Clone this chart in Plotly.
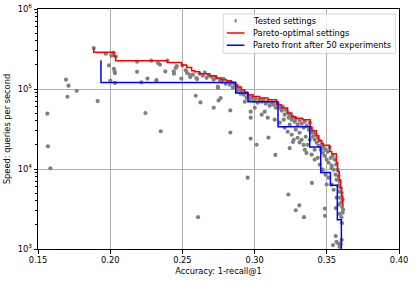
import plotly.graph_objects as go

# Tested settings (accuracy, queries per second)
tested_x = [0.1565,0.1569,0.1586,0.1694,0.1711,0.1704,0.1768,0.1913,0.1886,0.1969,0.2008,0.2024,0.1992,0.2026,0.2031,0.2033,0.2001,0.2033,0.2038,0.2186,0.2186,0.2216,0.2258,0.2320,0.2285,0.2331,0.2345,0.2382,0.2396,0.2440,0.2442,0.2454,0.2461,0.2493,0.2500,0.2523,0.2532,0.2555,0.2573,0.2597,0.2602,0.2592,0.2625,0.2244,0.2350,0.2717,0.2751,0.2765,0.2832,0.2832,0.2973,0.2973,0.2973,0.3014,0.3096,0.3144,0.2952,0.2608,0.3243,0.3266,0.3271,0.3312,0.3340,0.3359,0.3397,0.3234,0.3310,0.3285,0.3342,0.3487,0.3487,0.3499,0.3562,0.3589,0.3601,0.3610,0.3605,0.3562,0.3567,0.3578,0.3543,0.3589,0.3596,0.3603,0.3532,
            0.2620,0.2641,0.2655,0.2668,0.2682,0.2703,0.2717,0.2731,0.2745,0.2747,0.2759,0.2772,0.2786,0.2800,0.2814,0.2828,0.2842,0.2849,0.2862,0.2876,0.2883,0.2897,0.2904,0.2911,0.2925,0.2939,0.2945,0.2959,0.2966,0.2980,0.2994,0.3008,0.3021,0.3035,0.3049,0.3063,0.3077,0.3091,0.3105,0.3118,0.3132,0.3146,0.3160,0.3174,0.3188,0.3195,0.3208,0.3215,0.3229,0.3236,0.3243,0.3257,0.3264,0.3278,0.3285,0.3298,0.3312,0.3326,0.3340,0.3347,0.3361,0.3375,0.3382,0.3389,0.3395,0.3402,0.3409,0.3416,0.3423,0.3430,0.3437,0.3444,0.3451,0.3458,0.3465,0.3472,0.3478,0.3485,0.3492,0.3499,0.3506,0.3513,0.3520,0.3527,0.3534,0.3541,0.3548,0.3554,0.3561,0.3565,0.3568,0.3575,0.3579,0.3582,0.3586,0.3589,0.3593,0.3596,0.3599,0.3603,0.3606,0.3610,0.3613,
            0.2932,0.3001,0.3049,0.3070,0.3091,0.3139,0.3174,0.3208,0.3229,0.3257,0.3285,0.3298,0.3326,0.3354,0.3368,0.3382,0.3395,0.3416,0.3437,0.3451,0.3472,0.3492,0.3513,0.3534,0.3548,0.3568,0.3582,0.3416,0.3347,0.3202,0.3243,0.3312,0.2551]
tested_y = [49100,19200,10200,131000,110000,80000,95000,70700,325000,276000,261000,284000,197000,178000,164000,158000,127000,119000,255000,219000,164000,121000,135000,129000,226000,211000,201000,166000,226000,166000,155000,183000,193000,135000,196000,171000,159000,141000,151000,137000,133000,82400,68000,50000,29600,58300,72000,77000,53900,28500,52000,43800,24000,20100,24700,15000,7800,2500,18200,21800,23200,21500,20000,15900,6700,4800,3500,3050,2500,3200,2600,6400,3250,2750,2500,2840,2100,1450,1230,1180,1120,1070,1150,1300,10300,
            155000,147000,160000,138000,147000,142000,131000,138000,107500,103000,131000,123000,134000,116000,123000,113000,120000,104000,113000,104000,95100,101000,87300,92500,84800,89800,77800,82400,73500,77800,71400,75600,67400,73500,69400,73500,65500,69400,61800,67400,63600,58300,65500,58300,53500,60100,47700,55100,50500,43800,47700,41300,45100,39000,42500,35800,40100,36800,32800,39000,34700,31000,37900,28400,31900,25300,28400,23200,26800,21300,24600,19500,22600,17400,20100,16000,18500,14600,17400,13100,16400,12000,18500,13800,11000,14600,9800,13100,8500,11300,7350,9800,6200,8200,5200,6950,4380,5850,3800,5050,3370,4130,3100,
            69400,58300,47700,52000,43800,41300,37900,32800,29200,26800,31000,24600,23200,25300,20100,23200,15100,17400,13800,11300,9800,8500,7800,6360,5500,4380,3580,13100,17400,41300,35800,28400,151000]

# Pareto-optimal settings (step corners)
pareto_x = [0.1886,0.2026,0.2038,0.2396,0.2495,0.2530,0.2564,0.2585,0.2620,0.2689,0.2735,0.2770,0.2805,0.2839,0.2869,0.2885,0.2909,0.2931,0.2954,0.2989,0.3035,0.3093,0.3153,0.3186,0.3229,0.3257,0.3285,0.3333,0.3385,0.3395,0.3428,0.3444,0.3465,0.3475,0.3520,0.3534,0.3566,0.3575,0.3586,0.3596,0.3603,0.3610,0.3617]
pareto_y = [325000,287000,256000,226000,215000,199500,186000,169000,164500,155000,146500,137000,130500,127000,121000,112000,106000,98000,90700,84900,80800,77200,73500,63600,57900,50100,45100,43200,41300,33800,30100,26100,22600,21000,19800,16600,15500,12000,9250,7350,5840,4640,3580]

# Pareto front after 50 experiments
front50_x = [0.1936,0.2869,0.2954,0.3162,0.3382,0.3458,0.3525,0.3573,0.3601,0.3601]
front50_y = [228000,121000,89100,69400,33800,18800,9070,6270,2320,1000]

legend_labels = ["Tested settings", "Pareto-optimal settings", "Pareto front after 50 experiments"]

FONT = "DejaVu Sans"
FS = 8.25

fig = go.Figure()
fig.add_trace(go.Scatter(x=tested_x, y=tested_y, mode="markers", name=legend_labels[0],
                         marker=dict(color="#808080", size=4.2, line=dict(width=0))))
fig.add_trace(go.Scatter(x=pareto_x, y=pareto_y, mode="lines", name=legend_labels[1],
                         line=dict(color="#ff0000", width=1.5, shape="vh")))
fig.add_trace(go.Scatter(x=front50_x, y=front50_y, mode="lines", name=legend_labels[2],
                         line=dict(color="#0000ff", width=1.5, shape="vh")))

minor_vals = [k * 10 ** e for e in range(3, 6) for k in range(2, 10)]

fig.update_layout(
    width=415, height=281,
    margin=dict(l=38, r=16, t=9, b=32),
    paper_bgcolor="white", plot_bgcolor="white",
    font=dict(family=FONT, size=FS, color="black"),
    showlegend=False,
    xaxis=dict(range=[0.15, 0.40], tickvals=[0.15, 0.20, 0.25, 0.30, 0.35, 0.40],
               ticktext=["0.15", "0.20", "0.25", "0.30", "0.35", "0.40"],
               automargin=False,
               showgrid=True, gridcolor="#b0b0b0", gridwidth=0.8,
               showline=True, mirror=True, linecolor="black", linewidth=1,
               ticks="outside", ticklen=3.5, tickwidth=0.8, tickcolor="black",
               zeroline=False,
               title=dict(text="Accuracy: 1-recall@1", font=dict(size=FS), standoff=3)),
    yaxis=dict(type="log", range=[3, 6], tickvals=[1e3, 1e4, 1e5, 1e6],
               ticktext=["10<sup>3</sup>", "10<sup>4</sup>", "10<sup>5</sup>", "10<sup>6</sup>"],
               automargin=False,
               showgrid=True, gridcolor="#b0b0b0", gridwidth=0.8,
               showline=True, mirror=True, linecolor="black", linewidth=1,
               ticks="outside", ticklen=3.5, tickwidth=0.8, tickcolor="black",
               minor=dict(tickmode="array", tickvals=minor_vals, ticks="outside",
                          ticklen=2, tickwidth=0.6, tickcolor="black", showgrid=False),
               zeroline=False,
               title=dict(text="Speed: queries per second", font=dict(size=FS), standoff=5)),
)

# Legend box drawn in paper coordinates
lx0, lx1, ly0, ly1 = 0.513, 0.990, 0.815, 0.979
fig.add_shape(type="rect", xref="paper", yref="paper", x0=lx0, x1=lx1, y0=ly0, y1=ly1,
              line=dict(color="#cccccc", width=0.8), fillcolor="rgba(255,255,255,0.8)", layer="above")
rows = [0.951, 0.900, 0.849]
fig.add_shape(type="circle", xref="paper", yref="paper", x0=0.5445, x1=0.5505,
              y0=rows[0] - 0.0085, y1=rows[0] + 0.0085, line=dict(width=0),
              fillcolor="#808080", layer="above")
for r, c in zip(rows[1:], ["#ff0000", "#0000ff"]):
    fig.add_shape(type="line", xref="paper", yref="paper", x0=0.523, x1=0.572, y0=r, y1=r,
                  line=dict(color=c, width=1.5), layer="above")
for r, t in zip(rows, legend_labels):
    fig.add_annotation(xref="paper", yref="paper", x=0.589, y=r, text=t, showarrow=False,
                       xanchor="left", yanchor="middle", font=dict(size=FS, family=FONT, color="black"))

# The page's default 8px body margin would shift the figure; remove it.
fig.write_html("out.html", config={"displayModeBar": False},
               post_script="document.body.style.margin='0';")
